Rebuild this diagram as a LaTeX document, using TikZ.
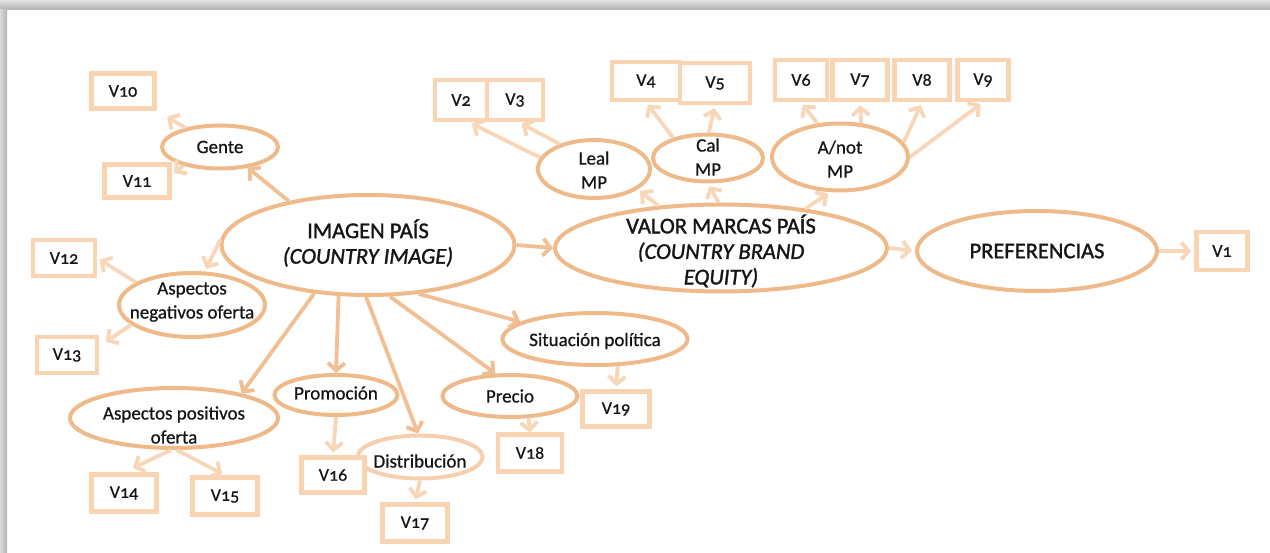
\documentclass[tikz,border=0pt]{standalone}
\usepackage{fontspec}
\setmainfont{Carlito}[Numbers=OldStyle]
\newfontfamily\labfont{Carlito}[Numbers=OldStyle,FakeBold=0.7]
\newfontfamily\headfont{Carlito}[Numbers=OldStyle,FakeBold=1.4]
\usetikzlibrary{shapes.geometric,arrows.meta}
\definecolor{ringc}{HTML}{EFBA8A}
\definecolor{ringl}{HTML}{F6CFAE}
\definecolor{boxc}{HTML}{F8D4B3}
\definecolor{arrc}{HTML}{F1BF93}
\definecolor{arrlc}{HTML}{F8D6B8}
\definecolor{inkc}{HTML}{151515}
\begin{document}
\begin{tikzpicture}[x=1pt,y=-1pt,
  ell/.style={ellipse, draw=ringc, line width=4pt, inner sep=0pt, fill=white},
  vbox/.style={draw=boxc, line width=4.5pt, inner sep=0pt, fill=white,
    font=\labfont\fontsize{18}{18}\selectfont, text=inkc},
  lbl/.style={font=\labfont\fontsize{19}{24}\selectfont, text=inkc, align=center, inner sep=0pt},
  biglbl/.style={font=\headfont\fontsize{22.5}{25.5}\selectfont, text=inkc, align=center, inner sep=0pt},
  arr/.style={draw=arrc, line width=3.8pt, -{Straight Barb[length=7.5pt,width=17pt]}},
  arrl/.style={arr, draw=arrlc, shorten >=3pt},
]
\useasboundingbox (0,0) rectangle (1270,553);
% page with a soft frame shadow along the top and left
\fill[white] (0,0) rectangle (1270,553);
\shade[top color=gray!22, bottom color=gray!62] (0,0) rectangle (1270,10);
\shade[left color=gray!30, right color=gray!60] (0,10) rectangle (7,553);

% main constructs
\node[ell, minimum width=293pt, minimum height=100pt,
  label={[biglbl, yshift=2pt]center:{IMAGEN PAÍS\\\textit{(COUNTRY IMAGE)}}}] (img) at (368,245) {};
\node[ell, minimum width=332pt, minimum height=87pt,
  label={[biglbl, yshift=-3pt]center:{VALOR MARCAS PAÍS\\\textit{(COUNTRY BRAND}\\\textit{EQUITY)}}}] (valor) at (721,248) {};
\node[ell, minimum width=240pt, minimum height=80pt,
  label={[biglbl]center:{PREFERENCIAS}}] (pref) at (1037,251) {};

% brand equity dimensions
\node[ell, minimum width=112pt, minimum height=58pt,
  label={[lbl, yshift=-1pt]center:{Leal\\MP}}] (leal) at (594,169) {};
\node[ell, minimum width=110pt, minimum height=47pt,
  label={[lbl, yshift=1pt]center:{Cal\\MP}}] (cal) at (708,158) {};
\node[ell, minimum width=136pt, minimum height=67pt,
  label={[lbl, yshift=-2pt]center:{A/not\\MP}}] (anot) at (840,157) {};

% country image dimensions
\node[ell, minimum width=116pt, minimum height=43pt,
  label={[lbl]center:{Gente}}] (gente) at (220,147) {};
\node[ell, minimum width=146pt, minimum height=64pt,
  label={[lbl, yshift=3pt]center:{Aspectos\\negativos oferta}}] (aspneg) at (192,305) {};
\node[ell, minimum width=208pt, minimum height=60pt,
  label={[lbl, yshift=-7pt]center:{Aspectos positivos\\oferta}}] (asppos) at (174,418) {};
\node[ell, minimum width=123pt, minimum height=40pt,
  label={[lbl, yshift=2pt]center:{Promoción}}] (promo) at (336,395) {};
\node[ell, draw=ringl, minimum width=125pt, minimum height=43pt,
  label={[lbl, yshift=-4pt]center:{Distribución}}] (distrib) at (420,457) {};
\node[ell, minimum width=135pt, minimum height=42pt,
  label={[lbl]center:{Precio}}] (precio) at (510,396) {};
\node[ell, minimum width=185pt, minimum height=52pt,
  label={[lbl, yshift=-2pt]center:{Situación política}}] (situ) at (595,339) {};

% observed variables
\node[vbox, minimum width=51pt, minimum height=38pt] (v1) at (1222,251) {V1};
\node[vbox, minimum width=52pt, minimum height=40pt] (v2) at (461,100) {V2};
\node[vbox, minimum width=56pt, minimum height=40pt] (v3) at (515,100) {V3};
\node[vbox, minimum width=68pt, minimum height=38pt] (v4) at (646,81) {V4};
\node[vbox, minimum width=70pt, minimum height=40pt] (v5) at (715,83) {V5};
\node[vbox, minimum width=52pt, minimum height=40pt] (v6) at (801,80) {V6};
\node[vbox, minimum width=55pt, minimum height=40pt] (v7) at (860,80) {V7};
\node[vbox, minimum width=55pt, minimum height=40pt] (v8) at (922,80) {V8};
\node[vbox, minimum width=51pt, minimum height=40pt] (v9) at (983,80) {V9};
\node[vbox, minimum width=63pt, minimum height=35pt] (v10) at (123,91) {V10};
\node[vbox, minimum width=65pt, minimum height=33pt] (v11) at (137,181) {V11};
\node[vbox, minimum width=62pt, minimum height=36pt] (v12) at (64,258) {V12};
\node[vbox, minimum width=60pt, minimum height=36pt] (v13) at (67,355) {V13};
\node[vbox, minimum width=65pt, minimum height=37pt] (v14) at (124,493) {V14};
\node[vbox, minimum width=65pt, minimum height=37pt] (v15) at (225,496) {V15};
\node[vbox, minimum width=63pt, minimum height=35pt] (v16) at (333,475) {V16};
\node[vbox, minimum width=65pt, minimum height=37pt] (v17) at (415,523) {V17};
\node[vbox, minimum width=64pt, minimum height=37pt] (v18) at (530,453) {V18};
\node[vbox, minimum width=67pt, minimum height=35pt] (v19) at (616,409) {V19};

% structural paths
\draw[arr] (img.east) -- (valor.west);
\draw[arrl] (valor.east) -- (pref.west);
\draw[arrl] (pref.east) -- (v1.west);
\draw[arr] (img.151) -- (gente.-37);
\draw[arrl] (img.178) -- (aspneg.69);
\draw[arr] (img.222) -- (asppos.20);
\draw[arr] (img.240) -- (promo.north);
\draw[arr] (img.268) -- (distrib.95);
\draw[arr] (img.293) -- (precio.123);
\draw[arr] (img.316) -- (situ.167);
\draw[arrl] (valor.146) -- (leal.-25);
\draw[arrl] (valor.93) -- (cal.south);
\draw[arrl] (valor.25) -- (anot.255);

% indicators
\draw[arrl] (leal.168) -- (v2.-70);
\draw[arrl] (leal.144) -- (v3.-80);
\draw[arrl] (cal.150) -- (v4.south);
\draw[arrl] (cal.88) -- (v5.south);
\draw[arrl] (anot.124) -- (v6.south);
\draw[arrl] (anot.58) -- (v7.south);
\draw[arrl] (anot.13) -- (v8.south);
\draw[arrl] (anot.0) -- (v9.south);
\draw[arrl, shorten >=12pt] (gente.151) -- (v10.south east);
\draw[arrl] (gente.207) -- (v11.10);
\draw[arrl] (aspneg.158) -- (v12.east);
\draw[arrl, shorten >=8pt] (aspneg.198) -- (v13.15);
\draw[arrl, shorten >=10pt] (asppos.265) -- (v14.north);
\draw[arrl] (asppos.275) -- (v15.north);
\draw[arrl] (promo.south) -- (v16.north);
\draw[arrl] (distrib.south) -- (v17.north);
\draw[arrl, shorten >=0pt] (precio.-50) -- (v18.north);
\draw[arrl] (situ.-50) -- (v19.north);
\end{tikzpicture}
\end{document}
